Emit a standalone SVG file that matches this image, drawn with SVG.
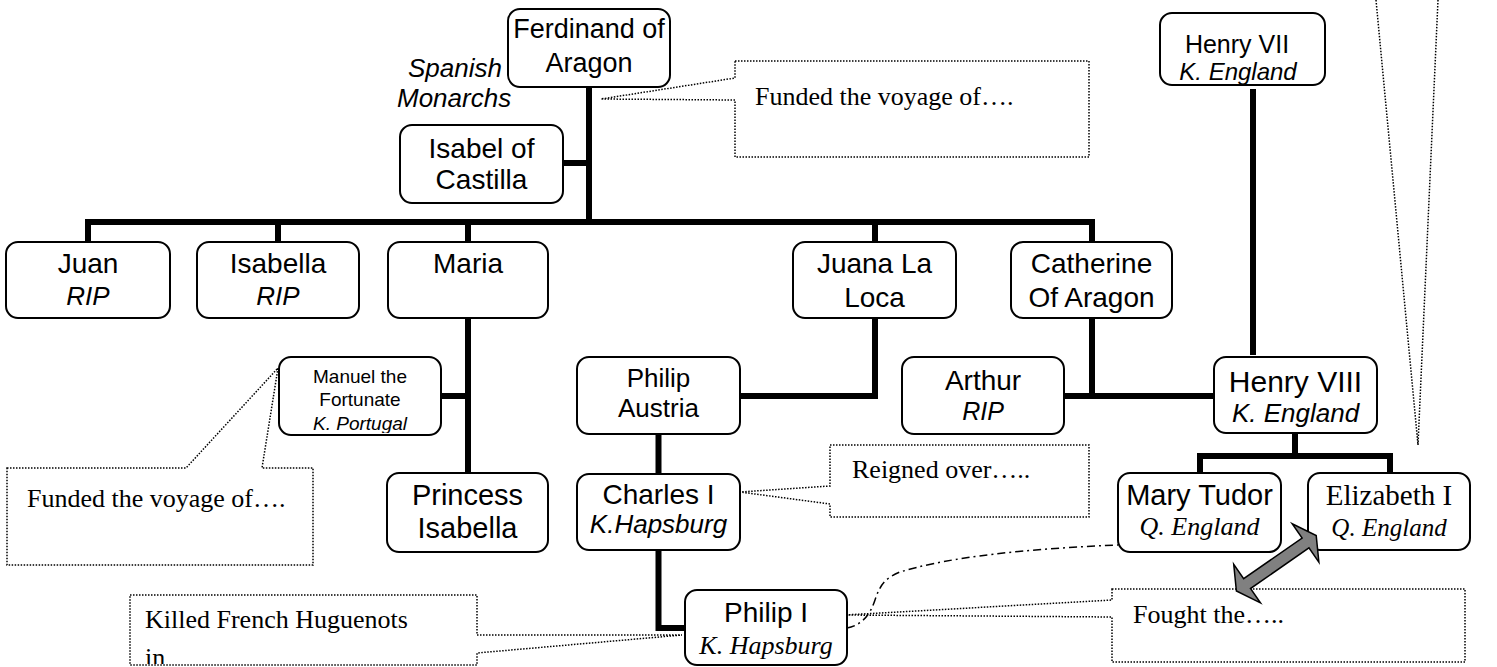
<svg xmlns="http://www.w3.org/2000/svg" width="1497" height="667" viewBox="0 0 1497 667">
<style>
.box{fill:#fff;stroke:#000;stroke-width:2}
.conn{fill:none;stroke:#000;stroke-width:6;stroke-linejoin:miter;stroke-linecap:butt}
.call{fill:none;stroke:#000;stroke-width:1.5;stroke-dasharray:1.5 1.5}
.dd{fill:none;stroke:#000;stroke-width:1.5;stroke-dasharray:8 4 2 4}
.s{font-family:"Liberation Sans",Arial,sans-serif;text-anchor:middle;fill:#000}
.t{font-family:"Liberation Serif","Times New Roman",serif;fill:#000}
.tm{font-family:"Liberation Serif","Times New Roman",serif;text-anchor:middle;fill:#000}
.i{font-style:italic}
</style>
<defs>
<clipPath id="clipManuel"><rect x="279" y="357" width="162" height="76"/></clipPath>
<clipPath id="clipKilled"><rect x="130" y="595" width="347" height="69"/></clipPath>
</defs>
<rect width="1497" height="667" fill="#fff"/>

<g id="connectors">
<path class="conn" d="M589,87 V222"/>
<path class="conn" d="M563,163 H589"/>
<path class="conn" d="M88,242 V222 H1092 V242"/>
<path class="conn" d="M278,222 V242 M468,222 V242 M875,222 V242"/>
<path class="conn" d="M468,318 V473"/>
<path class="conn" d="M441,396 H468"/>
<path class="conn" d="M875,318 V396 H740"/>
<path class="conn" d="M658.5,434 V474"/>
<path class="conn" d="M658.5,550 V628 H685"/>
<path class="conn" d="M1092,318 V396"/>
<path class="conn" d="M1064,396 H1214"/>
<path class="conn" d="M1253,89 V355"/>
<path class="conn" d="M1295,433 V456"/>
<path class="conn" d="M1200,473 V456 H1390 V473"/>
<path class="dd" d="M847,628 C862,625 870,615 875,600 C880,585 885,578 900,572 C940,560 1000,550 1118,545"/>
</g>

<g id="callouts">
<path class="call" d="M735,61 H1089 V157 H735 V100 L601,99 L735,78 Z"/>
<text class="t" x="755" y="105" font-size="26">Funded the voyage of….</text>
<path class="call" d="M7,468 H186 L278,368 L262,468 H313 V565 H7 Z"/>
<text class="t" x="27" y="507" font-size="26">Funded the voyage of….</text>
<path class="call" d="M830,445 H1089 V517 H830 V504 L740,492 L830,486 Z"/>
<text class="t" x="852" y="478" font-size="26">Reigned over…..</text>
<path class="call" d="M130,595 H477 V635 L682,635 L477,653 V665 H130 Z"/>
<text class="t" x="145" y="628" font-size="26">Killed French Huguenots</text>
<text class="t" x="145" y="666" font-size="26" clip-path="url(#clipKilled)">in</text>
<path class="call" d="M1112,589 H1465 V662 H1112 V617 L845,615 L1112,600 Z"/>
<text class="t" x="1133" y="623" font-size="26">Fought the…..</text>
<path class="call" d="M1376,0 L1418,445 L1438,0"/>
</g>

<g id="label-spanish-monarchs">
<text class="s i" x="408" y="77" font-size="26" style="text-anchor:start">Spanish</text>
<text class="s i" x="397" y="107" font-size="26" style="text-anchor:start">Monarchs</text>
</g>

<g id="node-ferdinand">
<rect class="box" x="508" y="9" width="162" height="78" rx="12"/>
<text class="s" x="589" y="38" font-size="27">Ferdinand of</text>
<text class="s" x="589" y="72" font-size="27">Aragon</text>
</g>
<g id="node-isabel">
<rect class="box" x="400" y="125" width="163" height="78" rx="12"/>
<text class="s" x="481.5" y="158" font-size="28">Isabel of</text>
<text class="s" x="481.5" y="189" font-size="28">Castilla</text>
</g>
<g id="node-henry7">
<rect class="box" x="1160" y="13" width="165" height="72" rx="12"/>
<text class="s" x="1237" y="53" font-size="25">Henry VII</text>
<text class="s i" x="1238" y="80" font-size="24">K. England</text>
</g>
<g id="node-juan">
<rect class="box" x="6" y="242" width="164" height="76" rx="12"/>
<text class="s" x="88" y="273" font-size="28">Juan</text>
<text class="s i" x="88" y="305" font-size="26">RIP</text>
</g>
<g id="node-isabella">
<rect class="box" x="197" y="242" width="162" height="76" rx="12"/>
<text class="s" x="278" y="273" font-size="28">Isabella</text>
<text class="s i" x="278" y="305" font-size="26">RIP</text>
</g>
<g id="node-maria">
<rect class="box" x="388" y="242" width="160" height="76" rx="12"/>
<text class="s" x="468" y="273" font-size="28">Maria</text>
</g>
<g id="node-juana">
<rect class="box" x="793" y="242" width="163" height="76" rx="12"/>
<text class="s" x="874.5" y="273" font-size="28">Juana La</text>
<text class="s" x="874.5" y="307" font-size="28">Loca</text>
</g>
<g id="node-catherine">
<rect class="box" x="1011" y="242" width="161" height="76" rx="12"/>
<text class="s" x="1091.5" y="273" font-size="28">Catherine</text>
<text class="s" x="1091.5" y="307" font-size="28">Of Aragon</text>
</g>
<g id="node-manuel">
<rect class="box" x="279" y="357" width="162" height="78" rx="12"/>
<text class="s" x="360" y="383" font-size="19">Manuel the</text>
<text class="s" x="360" y="406" font-size="19">Fortunate</text>
<text class="s i" x="360" y="430" font-size="19" clip-path="url(#clipManuel)">K. Portugal</text>
</g>
<g id="node-philip-austria">
<rect class="box" x="577" y="357" width="163" height="77" rx="12"/>
<text class="s" x="658.5" y="387" font-size="26">Philip</text>
<text class="s" x="658.5" y="417" font-size="26">Austria</text>
</g>
<g id="node-arthur">
<rect class="box" x="902" y="357" width="162" height="77" rx="12"/>
<text class="s" x="983" y="390" font-size="28">Arthur</text>
<text class="s i" x="983" y="420" font-size="25">RIP</text>
</g>
<g id="node-henry8">
<rect class="box" x="1214" y="357" width="163" height="76" rx="12"/>
<text class="s" x="1295.5" y="392" font-size="30">Henry VIII</text>
<text class="s i" x="1295.5" y="422" font-size="26">K. England</text>
</g>
<g id="node-princess-isabella">
<rect class="box" x="387" y="473" width="161" height="79" rx="12"/>
<text class="s" x="467.5" y="505" font-size="29">Princess</text>
<text class="s" x="467.5" y="538" font-size="29">Isabella</text>
</g>
<g id="node-charles">
<rect class="box" x="577" y="474" width="163" height="76" rx="12"/>
<text class="s" x="658.5" y="504" font-size="28">Charles I</text>
<text class="s i" x="658.5" y="533" font-size="26">K.Hapsburg</text>
</g>
<g id="node-mary-tudor">
<rect class="box" x="1118" y="473" width="163" height="79" rx="12"/>
<text class="s" x="1199.5" y="505" font-size="29">Mary Tudor</text>
<text class="tm i" x="1199.5" y="535" font-size="26">Q. England</text>
</g>
<g id="node-elizabeth">
<rect class="box" x="1308" y="473" width="162" height="77" rx="12"/>
<text class="tm" x="1389" y="505" font-size="29">Elizabeth I</text>
<text class="tm i" x="1389" y="536" font-size="25">Q. England</text>
</g>
<g id="node-philip1">
<rect class="box" x="685" y="590" width="162" height="75" rx="12"/>
<text class="s" x="766" y="622" font-size="28">Philip I</text>
<text class="tm i" x="766" y="654" font-size="26">K. Hapsburg</text>
</g>

<g id="double-arrow">
<polygon points="-48.6,0 -35.6,-23.4 -35.6,-6 35.6,-6 35.6,-23.4 48.6,0 35.6,23.4 35.6,6 -35.6,6 -35.6,23.4" transform="translate(1276.3,563.3) rotate(-34.8)" fill="#808080" stroke="#000" stroke-width="1.5" stroke-linejoin="miter"/>
</g>
</svg>
